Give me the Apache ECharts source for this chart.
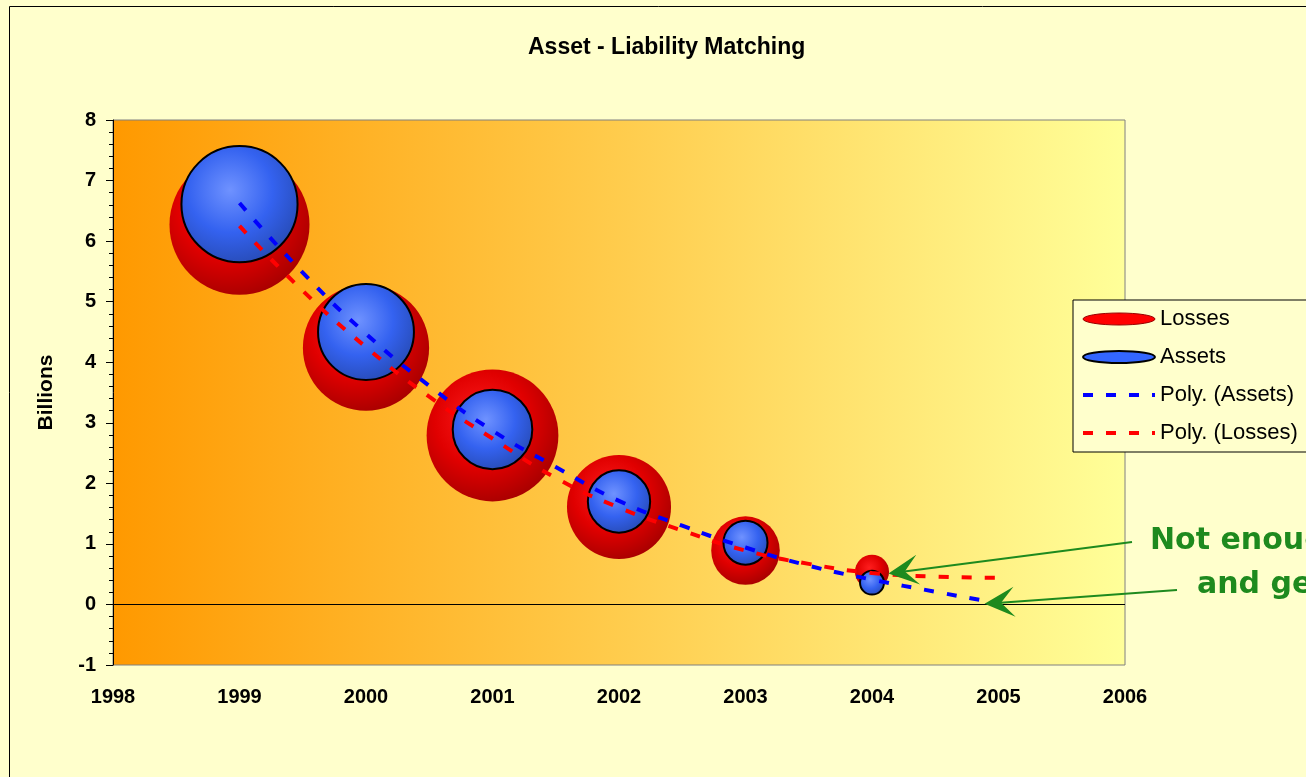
<!DOCTYPE html>
<html>
<head>
<meta charset="utf-8">
<title>Asset - Liability Matching</title>
<script src="https://cdn.jsdelivr.net/npm/echarts@6/dist/echarts.min.js"></script>
<style>
  html, body { margin: 0; padding: 0; background: #FFFFCC; }
  #main { width: 1306px; height: 777px; }
</style>
</head>
<body>
<div id="main"></div>
<script>
// bubble data: year, value (billions), bubble size
const years = [1999, 2000, 2001, 2002, 2003, 2004]
const lossValues = [6.27, 4.24, 2.79, 1.61, 0.89, 0.54]
const lossSizes = [9.6, 7.8, 8.5, 5.3, 2.3, 0.57]
const assetValues = [6.61, 4.5, 2.89, 1.7, 1.02, 0.36]
const assetSizes = [6.6, 4.5, 3.1, 1.9, 0.95, 0.28]

// polynomial trend lines (half year steps, forecast to 2005)
const trendYears = [1999, 1999.5, 2000, 2000.5, 2001, 2001.5, 2002, 2002.5, 2003, 2003.5, 2004, 2004.5, 2005]
const trendAssets = [6.63, 5.48, 4.47, 3.61, 2.87, 2.27, 1.71, 1.30, 0.94, 0.64, 0.41, 0.21, 0.02]
const trendLosses = [6.25, 5.18, 4.25, 3.43, 2.74, 2.09, 1.60, 1.22, 0.89, 0.67, 0.52, 0.46, 0.44]

const yTicks = [-1, 8]
const xTicks = [1998, 2006]

const FONT = 'Arial, "Liberation Sans", sans-serif'
const K = 45.2 // px per sqrt(size unit)
const ELLIPSE = 'path://M0,10 A10,10 0 1,1 20,10 A10,10 0 1,1 0,10 Z'
const DASH = [10, 13]

const pair = (xs, ys, zs) => xs.map((x, i) => zs ? [x, ys[i], zs[i]] : [x, ys[i]])

const sphere = (hi, mid, dark) => ({
  type: 'radial', x: 0.42, y: 0.38, r: 0.72,
  colorStops: [
    { offset: 0, color: hi },
    { offset: 0.5, color: mid },
    { offset: 1, color: dark }
  ]
})

const chart = echarts.init(document.getElementById('main'))

let option = {
  backgroundColor: '#FFFFCC',
  animation: false,
  title: {
    text: 'Asset - Liability Matching',
    left: 523, top: 31,
    textStyle: { fontFamily: FONT, fontSize: 23, fontWeight: 'bold', color: '#000' }
  },
  legend: {
    orient: 'vertical',
    left: 1073, top: 300,
    padding: [8, 40, 8, 8],
    backgroundColor: '#FFFFCC',
    borderColor: '#000', borderWidth: 1,
    itemWidth: 72, itemHeight: 12,
    itemGap: 16, itemTextGap: 9,
    symbolKeepAspect: false,
    textStyle: { fontFamily: FONT, fontSize: 22, color: '#000', lineHeight: 22 },
    data: [
      { name: 'Losses', icon: ELLIPSE, itemStyle: { color: '#FF0000', borderColor: '#990000', borderWidth: 1 } },
      { name: 'Assets', icon: ELLIPSE, itemStyle: { color: '#3366FF', borderColor: '#000', borderWidth: 2 } },
      { name: 'Poly. (Assets)', itemStyle: { color: 'rgba(0,0,0,0)', borderWidth: 0 },
        lineStyle: { color: '#0000FF', width: 4, type: DASH } },
      { name: 'Poly. (Losses)', itemStyle: { color: 'rgba(0,0,0,0)', borderWidth: 0 },
        lineStyle: { color: '#FF0000', width: 4, type: DASH } }
    ]
  },
  grid: {
    left: 113, top: 120, width: 1012, height: 545,
    show: true,
    borderColor: '#808080', borderWidth: 1,
    backgroundColor: {
      type: 'linear', x: 0, y: 0, x2: 1, y2: 0,
      colorStops: [{ offset: 0, color: '#FF9900' }, { offset: 1, color: '#FFFF99' }]
    }
  },
  xAxis: {
    type: 'value',
    min: xTicks[0], max: xTicks[1], interval: 1,
    axisLine: { show: false },
    axisTick: { show: false },
    splitLine: { show: false },
    axisLabel: {
      margin: 22,
      fontFamily: FONT, fontSize: 20, fontWeight: 'bold', color: '#000',
      formatter: v => String(v)
    }
  },
  yAxis: {
    type: 'value',
    min: yTicks[0], max: yTicks[1], interval: 1,
    name: 'Billions',
    nameLocation: 'middle',
    nameRotate: 90,
    nameGap: 56,
    nameTextStyle: { fontFamily: FONT, fontSize: 21, fontWeight: 'bold', color: '#000' },
    axisLine: { show: true, lineStyle: { color: '#000', width: 1 } },
    axisTick: { show: true, length: 7, lineStyle: { color: '#000' } },
    minorTick: { show: true, splitNumber: 5, length: 4, lineStyle: { color: '#000' } },
    splitLine: { show: false },
    axisLabel: {
      margin: 17,
      fontFamily: FONT, fontSize: 20, fontWeight: 'bold', color: '#000'
    }
  },
  series: [
    {
      name: 'Losses',
      type: 'scatter',
      z: 2,
      data: pair(years, lossValues, lossSizes),
      symbolSize: d => K * Math.sqrt(d[2]),
      itemStyle: { color: sphere('#FF1E1E', '#E00000', '#9A0000'), opacity: 1 },
      markLine: {
        silent: true,
        symbol: 'none',
        label: { show: false },
        lineStyle: { color: '#000', width: 1, type: 'solid' },
        data: [{ yAxis: 0 }]
      }
    },
    {
      name: 'Assets',
      type: 'scatter',
      z: 3,
      data: pair(years, assetValues, assetSizes),
      symbolSize: d => K * Math.sqrt(d[2]),
      itemStyle: {
        color: sphere('#6F92FF', '#3462F0', '#2446A8'),
        borderColor: '#000', borderWidth: 2, opacity: 1
      }
    },
    {
      name: 'Poly. (Assets)',
      type: 'line',
      z: 5,
      smooth: true,
      symbol: 'none',
      data: pair(trendYears, trendAssets),
      lineStyle: { color: '#0000FF', width: 4, type: DASH },
      itemStyle: { color: '#0000FF' }
    },
    {
      name: 'Poly. (Losses)',
      type: 'line',
      z: 4,
      smooth: true,
      symbol: 'none',
      data: pair(trendYears, trendLosses),
      lineStyle: { color: '#FF0000', width: 4, type: DASH },
      itemStyle: { color: '#FF0000' }
    }
  ]
}

chart.setOption(option)

// note with arrows, pointing at the 2004/2005 trend ends
const GREEN = '#1E8A1E'
function arrow(tail, tipData) {
  const tip = chart.convertToPixel({ gridIndex: 0 }, tipData)
  const dx = tail[0] - tip[0], dy = tail[1] - tip[1]
  const len = Math.sqrt(dx * dx + dy * dy)
  const ux = dx / len, uy = dy / len
  const px = -uy, py = ux
  const L = 30, W = 15
  return [
    { type: 'line', z: 100, shape: { x1: tail[0], y1: tail[1], x2: tip[0] + ux * 16, y2: tip[1] + uy * 16 },
      style: { stroke: GREEN, lineWidth: 2 } },
    { type: 'polygon', z: 100, shape: { points: [
        [tip[0], tip[1]],
        [tip[0] + ux * L + px * W, tip[1] + uy * L + py * W],
        [tip[0] + ux * L * 0.55, tip[1] + uy * L * 0.55],
        [tip[0] + ux * L - px * W, tip[1] + uy * L - py * W]
      ] },
      style: { fill: GREEN } }
  ]
}

chart.setOption({
  graphic: [
    { type: 'rect', z: 100, silent: true,
      shape: { x: 9.5, y: 6.5, width: 1400, height: 800 },
      style: { fill: 'none', stroke: '#000', lineWidth: 1 } },
    ...arrow([1132, 542], [2004.13, 0.51]),
    ...arrow([1177, 590], [2004.89, 0.01]),
    { type: 'text', z: 100, left: 1150, top: 526,
      style: { text: 'Not enough', fill: GREEN, font: 'bold 30px "Comic Sans MS", "DejaVu Sans", sans-serif' } },
    { type: 'text', z: 100, left: 1197, top: 570,
      style: { text: 'and get', fill: GREEN, font: 'bold 30px "Comic Sans MS", "DejaVu Sans", sans-serif' } }
  ]
})
</script>
</body>
</html>
